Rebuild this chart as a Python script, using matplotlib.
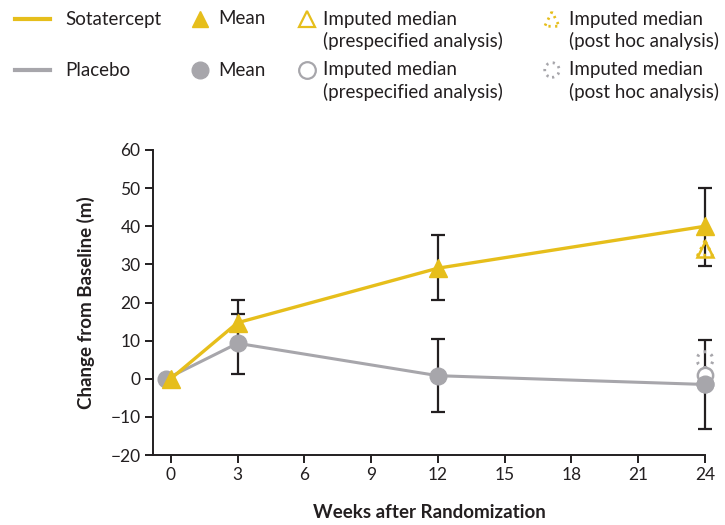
import matplotlib
matplotlib.use("Agg")
import matplotlib.pyplot as plt
from matplotlib.lines import Line2D

plt.rcParams['font.family'] = ['Lato', 'DejaVu Sans']

# Weeks of assessment
weeks = [0, 3, 12, 24]

# Sotatercept: mean change with error bar bounds
sota_mean = [0, 14.7, 29.0, 40.0]
sota_low = [0, 8.8, 20.6, 29.7]
sota_high = [0, 20.6, 37.8, 50.0]

# Placebo: mean change with error bar bounds
plac_mean = [0, 9.3, 0.8, -1.5]
plac_low = [0, 1.3, -8.8, -13.2]
plac_high = [0, 16.9, 10.3, 10.1]

# Imputed medians at week 24
sota_imp_pre = 34.0
sota_imp_post = 34.3
plac_imp_pre = 1.0
plac_imp_post = 5.0

xticks = [0, 3, 6, 9, 12, 15, 18, 21, 24]
yticks = [-20, -10, 0, 10, 20, 30, 40, 50, 60]

YELLOW = '#E6BE1B'
GRAY = '#A7A6AB'
DARK = '#231F20'

W, H = 725, 525
fig = plt.figure(figsize=(W / 100, H / 100), dpi=100)

ax = fig.add_axes([153 / W, 1 - 455 / H, (705 - 153) / W, (455 - 150) / H])
ax.set_xlim(-0.8, 24)
ax.set_ylim(-20, 60)

# error bars
for i, wk in enumerate(weeks[1:], start=1):
    for m, lo, hi in ((sota_mean, sota_low, sota_high), (plac_mean, plac_low, plac_high)):
        ax.errorbar([wk], [m[i]], yerr=[[m[i] - lo[i]], [hi[i] - m[i]]], fmt='none',
                    ecolor=DARK, elinewidth=1.6, capsize=5, capthick=1.6,
                    clip_on=False, zorder=2)

# placebo (slightly dodged at baseline so both markers are visible)
plac_x = [w - (0.2 if w == 0 else 0) for w in weeks]
ax.plot(plac_x, plac_mean, color=GRAY, lw=2.2, zorder=3, clip_on=False,
        marker='o', ms=12, mfc=GRAY, mec=GRAY, solid_capstyle='butt')

# imputed medians, placebo
ax.scatter([weeks[-1]], [plac_imp_post], s=130, facecolors='none', edgecolors=GRAY,
           linewidths=2.2, linestyles=(0, (0.8, 1.8)), zorder=3, clip_on=False)
ax.plot([weeks[-1]], [plac_imp_pre], ls='none', marker='o', ms=11, mfc='white',
        mec=GRAY, mew=1.8, zorder=4, clip_on=False)
ax.plot([weeks[-1]], [plac_mean[-1]], ls='none', marker='o', ms=12, mfc=GRAY,
        mec=GRAY, zorder=4, clip_on=False)

# sotatercept
ax.plot(weeks, sota_mean, color=YELLOW, lw=2.4, zorder=5, clip_on=False,
        marker='^', ms=13, mfc=YELLOW, mec=YELLOW)
ax.plot([weeks[-1]], [sota_imp_pre], ls='none', marker='^', ms=12, mfc='none',
        mec=YELLOW, mew=1.8, zorder=5, clip_on=False)
ax.scatter([weeks[-1]], [sota_imp_post], s=110, marker='^', facecolors='none',
           edgecolors=YELLOW, linewidths=2.2, linestyles=(0, (0.8, 1.6)),
           zorder=5, clip_on=False)

for s in ('top', 'right'):
    ax.spines[s].set_visible(False)
for s in ('left', 'bottom'):
    ax.spines[s].set_linewidth(1.4)
    ax.spines[s].set_color(DARK)
ax.set_xticks(xticks)
ax.set_yticks(yticks)
ax.set_yticklabels([str(v).replace('-', '\u2212') for v in yticks])
ax.tick_params(axis='both', length=6, width=1.4, color=DARK, labelsize=12.5,
               labelcolor=DARK, pad=3)
ax.set_xlabel('Weeks after Randomization', fontsize=13.5, fontweight='bold',
              color=DARK, labelpad=15)
ax.set_ylabel('Change from Baseline (m)', fontsize=13.5, fontweight='bold',
              color=DARK, labelpad=11)

# legend drawn in pixel coordinates across the top
lg = fig.add_axes([0, 1 - 110 / H, 1, 110 / H])
lg.set_xlim(0, W)
lg.set_ylim(110, 0)
lg.axis('off')

fs = 13.5
rows = [
    (19, 'Sotatercept', YELLOW, '^'),
    (70, 'Placebo', GRAY, 'o'),
]
for y, name, col, mk in rows:
    lg.add_line(Line2D([15, 50], [y, y], color=col, lw=3))
    lg.text(65, y, name, fontsize=fs, va='center', color=DARK)
    lg.plot([200], [y], marker=mk, ms=12, color=col, mec=col, ls='none')
    lg.text(218, y, 'Mean', fontsize=fs, va='center', color=DARK)
    lg.plot([307], [y], marker=mk, ms=12, mfc='white', mec=col, mew=1.6, ls='none')
    lg.text(323, y, 'Imputed median', fontsize=fs, va='center', color=DARK)
    lg.text(323, y + 22, '(prespecified analysis)', fontsize=fs, va='center', color=DARK)
    lg.scatter([552], [y], s=110, marker=mk, facecolors='none', edgecolors=col,
               linewidths=2.0, linestyles=(0, (0.8, 1.6)))
    lg.text(569, y, 'Imputed median', fontsize=fs, va='center', color=DARK)
    lg.text(569, y + 22, '(post hoc analysis)', fontsize=fs, va='center', color=DARK)

fig.savefig('out.png', dpi=100)
